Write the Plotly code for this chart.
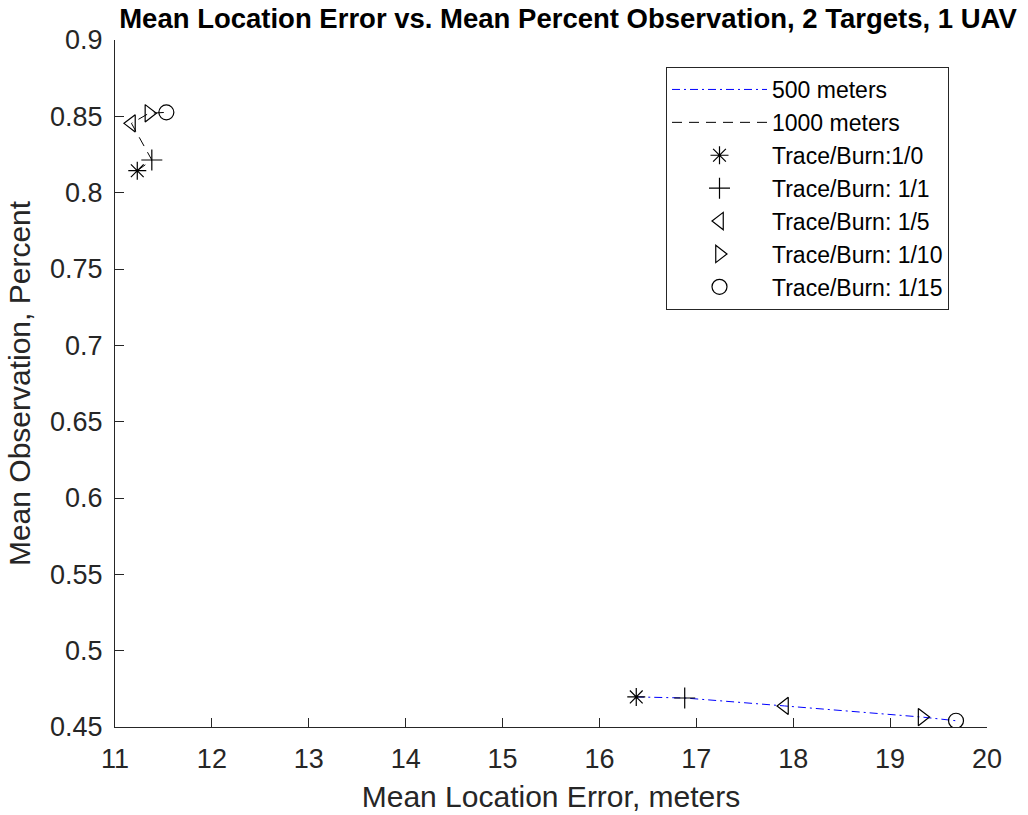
import plotly.graph_objects as go

# ---- data ----
trace_burn = ["Trace/Burn:1/0", "Trace/Burn: 1/1", "Trace/Burn: 1/5",
              "Trace/Burn: 1/10", "Trace/Burn: 1/15"]
err_500 = [16.38, 16.88, 17.91, 19.33, 19.68]
obs_500 = [0.4697, 0.4690, 0.4638, 0.4565, 0.4541]
err_1000 = [11.23, 11.38, 11.17, 11.35, 11.53]
obs_1000 = [0.8144, 0.8214, 0.8454, 0.8520, 0.8526]
symbols = ["asterisk-open", "cross-thin-open", "triangle-left-open",
           "triangle-right-open", "circle-open"]
xticks = [11, 12, 13, 14, 15, 16, 17, 18, 19, 20]
yticks = [0.45, 0.5, 0.55, 0.6, 0.65, 0.7, 0.75, 0.8, 0.85, 0.9]
ytick_text = ["0.45", "0.5", "0.55", "0.6", "0.65", "0.7", "0.75", "0.8", "0.85", "0.9"]

FONT = "Liberation Sans, Arial, Helvetica, sans-serif"
AX = "#262626"

fig = go.Figure()
fig.add_trace(go.Scatter(x=err_500, y=obs_500, mode="lines", name="500 meters",
                         line=dict(color="#0000ff", width=1, dash="8px,4px,2px,4px")))
fig.add_trace(go.Scatter(x=err_1000, y=obs_1000, mode="lines", name="1000 meters",
                         line=dict(color="black", width=1, dash="10px,7px")))
for i, (nm, sym) in enumerate(zip(trace_burn, symbols)):
    fig.add_trace(go.Scatter(
        x=[err_500[i], err_1000[i]], y=[obs_500[i], obs_1000[i]],
        mode="markers", name=nm,
        marker=dict(symbol=sym, size=15, color="black",
                    line=dict(color="black", width=1.2))))

fig.update_layout(
    width=1028, height=815,
    margin=dict(l=115, r=41, t=40, b=88, autoexpand=False),
    paper_bgcolor="white", plot_bgcolor="white",
    font=dict(family=FONT, color=AX, size=22),
    title=dict(text="<b>Mean Location Error vs. Mean Percent Observation, 2 Targets, 1 UAV</b>",
               font=dict(family=FONT, size=27.5, color="black"),
               x=568 / 1028, xref="container", xanchor="center",
               y=1 - 18 / 815, yref="container", yanchor="middle"),
    xaxis=dict(range=[11, 20], tickvals=xticks, ticks="inside", ticklen=9,
               tickcolor=AX, showline=True, linecolor=AX, linewidth=1,
               showgrid=False, zeroline=False, mirror=False, automargin=False,
               tickfont=dict(size=27, color=AX), ticklabelstandoff=8,
               title=dict(text="Mean Location Error, meters", font=dict(size=30, color=AX),
                          standoff=12)),
    yaxis=dict(range=[0.45, 0.9], tickvals=yticks, ticktext=ytick_text, ticks="inside",
               ticklen=9, tickcolor=AX, showline=True, linecolor=AX, linewidth=1,
               showgrid=False, zeroline=False, mirror=False, automargin=False,
               tickfont=dict(size=27, color=AX), ticklabelstandoff=6,
               title=dict(text="Mean Observation, Percent", font=dict(size=30, color=AX),
                          standoff=10)),
    legend=dict(x=(666 - 115) / 872, y=(727 - 67) / 687, xanchor="left", yanchor="top",
                bgcolor="white", bordercolor=AX, borderwidth=1,
                font=dict(size=23, color="black"), itemwidth=95,
                tracegroupgap=0),
    showlegend=True,
)

fig.write_html("out.html")
